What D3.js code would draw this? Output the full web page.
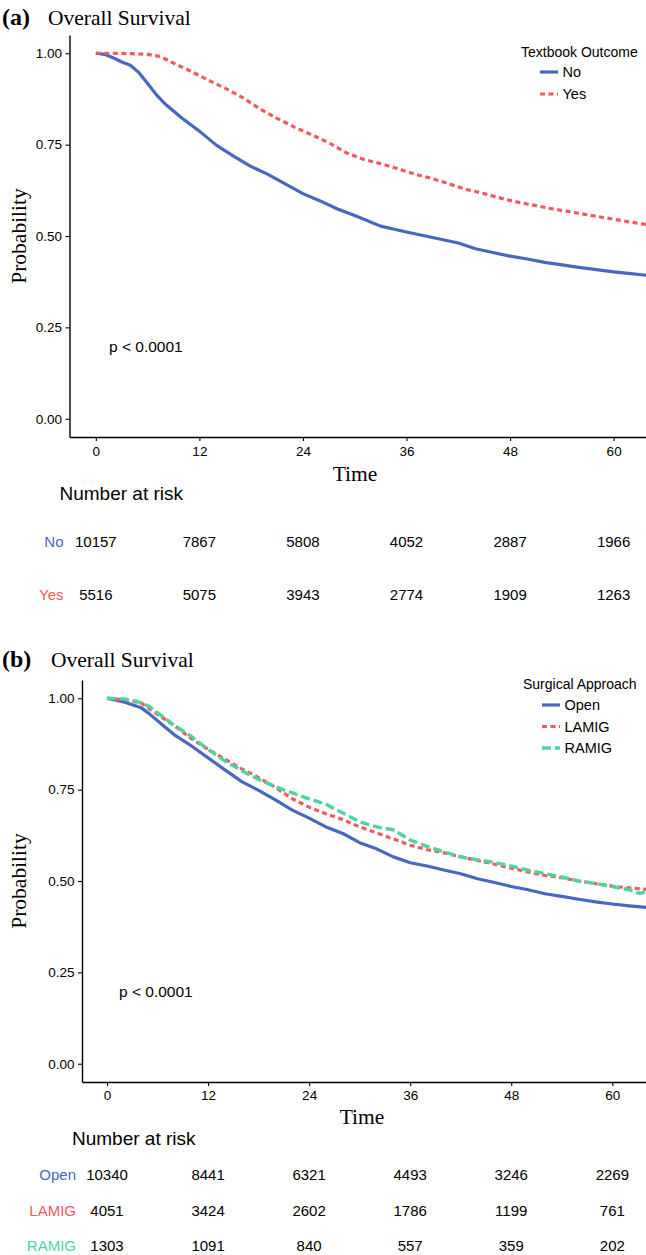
<!DOCTYPE html>
<html>
<head>
<meta charset="utf-8">
<script src="https://cdn.jsdelivr.net/npm/d3@7"></script>
<style>
  html, body { margin: 0; padding: 0; background: #fff; }
  svg { display: block; }
</style>
</head>
<body>
<svg id="chart" width="646" height="1255"></svg>
<script>
// ---------------- DATA ----------------
const xTicks = [0, 12, 24, 36, 48, 60];
const yTicks = [0, 0.25, 0.5, 0.75, 1.0];

// Panel (a): Textbook Outcome
const groupsA = ["No", "Yes"];
const timeNo = [0,1,2,3,4,5,6,7,8,10,12,14,16,18,20,22,24,26,28,30,33,36,39,42,44,46,48,50,52,54,56,58,60,62,64];
const survNo = [1.000,0.997,0.988,0.976,0.967,0.947,0.917,0.887,0.862,0.822,0.787,0.748,0.718,0.690,0.668,0.642,0.616,0.596,0.574,0.556,0.527,0.511,0.496,0.481,0.465,0.455,0.445,0.437,0.428,0.421,0.414,0.408,0.402,0.397,0.392];
const timeYes = [0,2,4,6,7.5,9,11,13,15,17,19,21,23,25,27,29,31,33,35,37,39,41,43,45,47,49,51,53,55,57,59,61,63,64];
const survYes = [1.000,1.000,0.999,0.997,0.991,0.973,0.951,0.927,0.904,0.879,0.848,0.822,0.798,0.777,0.755,0.728,0.710,0.698,0.684,0.669,0.657,0.642,0.627,0.616,0.603,0.592,0.583,0.574,0.566,0.558,0.550,0.542,0.534,0.531];
const riskNo  = [10157, 7867, 5808, 4052, 2887, 1966];
const riskYes = [5516, 5075, 3943, 2774, 1909, 1263];

// Panel (b): Surgical Approach
const groupsB = ["Open", "LAMIG", "RAMIG"];
const timeOpen = [0,2,4,5,6.7,8,10,12,14,16,18,20,22,24,26,28,30,32,34,36,38,40,42,44,46,48,50,52,54,56,58,60,62,64];
const survOpen = [1.000,0.990,0.975,0.958,0.925,0.900,0.870,0.837,0.804,0.772,0.748,0.722,0.694,0.672,0.648,0.630,0.605,0.588,0.566,0.550,0.541,0.530,0.520,0.506,0.496,0.485,0.476,0.465,0.458,0.450,0.443,0.437,0.432,0.428];
const timeLAMIG = [0,2,4,6,8,10,12,14,16,18,20,22,24,26,28,30,32,34,36,38,40,42,44,46,48,50,52,54,56,58,60,62,64];
const survLAMIG = [1.000,0.996,0.988,0.956,0.925,0.890,0.860,0.833,0.807,0.783,0.756,0.725,0.702,0.684,0.668,0.648,0.632,0.615,0.598,0.586,0.577,0.566,0.556,0.546,0.535,0.525,0.515,0.509,0.500,0.493,0.486,0.481,0.477];
const timeRAMIG = [0,2,3.5,5,6.7,8,10,12,14,16,18,20,22,24,26,28,30,32,34,36,38,40,42,44,46,48,50,52,54,56,58,60,62,63.2,64];
const survRAMIG = [1.000,0.998,0.992,0.978,0.948,0.926,0.896,0.860,0.828,0.802,0.778,0.758,0.741,0.725,0.710,0.686,0.662,0.648,0.640,0.612,0.595,0.580,0.566,0.558,0.551,0.541,0.530,0.520,0.511,0.500,0.493,0.485,0.476,0.466,0.470];
const riskOpen  = [10340, 8441, 6321, 4493, 3246, 2269];
const riskLAMIG = [4051, 3424, 2602, 1786, 1199, 761];
const riskRAMIG = [1303, 1091, 840, 557, 359, 202];

// ---------------- STYLE ----------------
const BLUE = "#4767C3", RED = "#F8575C", GREEN = "#4ED3A3";
const SANS = "'Liberation Sans', Arial, Helvetica, sans-serif";
const SERIF = "'Liberation Serif', 'Times New Roman', Times, serif";

const svg = d3.select("#chart");
svg.append("rect").attr("width", 646).attr("height", 1255).attr("fill", "#fff");

function zip(ts, ss) { return ts.map((t, i) => ({ t: t, s: ss[i] })); }

function drawPanel(p) {
  const g = svg.append("g");
  const x = d3.scaleLinear().domain(p.xDomain).range([p.left, 646]);
  const y = d3.scaleLinear().domain([-0.05, 1.05]).range([p.bottom, p.top]);

  // title
  g.append("text").attr("x", 2).attr("y", p.titleY)
    .attr("font-family", SERIF).attr("font-weight", "bold").attr("font-size", 24)
    .text(p.letter);
  g.append("text").attr("x", p.titleX).attr("y", p.titleY)
    .attr("font-family", SERIF).attr("font-size", 21.5)
    .text("Overall Survival");

  // clip
  const clipId = "clip" + p.letter.replace(/[()]/g, "");
  svg.append("clipPath").attr("id", clipId).append("rect")
    .attr("x", p.left).attr("y", p.top).attr("width", 646 - p.left).attr("height", p.bottom - p.top);

  // curves
  const line = d3.line().x(d => x(d.t)).y(d => y(d.s)).curve(d3.curveLinear);
  const cg = g.append("g").attr("clip-path", "url(#" + clipId + ")");
  p.series.forEach(s => {
    cg.append("path").datum(zip(s.t, s.s))
      .attr("fill", "none").attr("stroke", s.color).attr("stroke-width", s.width)
      .attr("stroke-dasharray", s.dash).attr("stroke-linejoin", "round")
      .attr("d", line);
  });

  // axes
  const yAxis = d3.axisLeft(y).tickValues(yTicks).tickFormat(d3.format(".2f"))
    .tickSize(4).tickSizeOuter(0).tickPadding(3.5);
  const ya = g.append("g").attr("transform", `translate(${p.left},0)`).call(yAxis);
  const xAxis = d3.axisBottom(x).tickValues(xTicks).tickFormat(d3.format("d"))
    .tickSize(4).tickSizeOuter(0).tickPadding(p.xPad);
  const xa = g.append("g").attr("transform", `translate(0,${p.bottom})`).call(xAxis);
  [ya, xa].forEach(a => {
    a.selectAll("path.domain").attr("stroke", "#000").attr("stroke-width", 1.4);
    a.selectAll(".tick line").attr("stroke", "#000").attr("stroke-width", 1.1);
    a.selectAll(".tick text").attr("fill", "#000").attr("font-family", SANS).attr("font-size", 13.5);
  });

  // axis titles
  g.append("text").attr("transform", `translate(${p.ylabX},${(p.top + p.bottom) / 2}) rotate(-90)`)
    .attr("text-anchor", "middle").attr("font-family", SERIF).attr("font-size", 21.5)
    .text("Probability");
  g.append("text").attr("x", p.timeX).attr("y", p.timeY).attr("text-anchor", "middle")
    .attr("font-family", SERIF).attr("font-size", 21.5).text("Time");

  // p-value
  g.append("text").attr("x", p.pX).attr("y", p.pY)
    .attr("font-family", SANS).attr("font-size", 15.5).text("p < 0.0001");

  // legend
  g.append("text").attr("x", p.legX).attr("y", p.legTitleY)
    .attr("font-family", SANS).attr("font-size", 14).text(p.legTitle);
  p.series.forEach((s, i) => {
    const ly = p.legY0 + i * p.legStep;
    g.append("line").attr("x1", p.legX + 19).attr("x2", p.legX + 37).attr("y1", ly).attr("y2", ly)
      .attr("stroke", s.color).attr("stroke-width", s.width).attr("stroke-dasharray", s.dash);
    g.append("text").attr("x", p.legX + 41.5).attr("y", ly + 5.2)
      .attr("font-family", SANS).attr("font-size", 14.5).text(s.name);
  });

  // risk table
  g.append("text").attr("x", p.narX).attr("y", p.narY)
    .attr("font-family", SANS).attr("font-size", 19).text("Number at risk");
  p.series.forEach((s, i) => {
    const ry = p.rowY[i];
    g.append("text").attr("x", p.rowLabelX).attr("y", ry).attr("text-anchor", "end")
      .attr("font-family", SANS).attr("font-size", 15).attr("fill", s.color).text(s.name);
    g.selectAll(null).data(s.risk).enter().append("text")
      .attr("x", (d, j) => x(xTicks[j])).attr("y", ry).attr("text-anchor", "middle")
      .attr("font-family", SANS).attr("font-size", 15).attr("fill", "#000")
      .text(d => d);
  });
}

drawPanel({
  letter: "(a)", titleX: 48, titleY: 25,
  left: 69.5, top: 35, bottom: 437, xDomain: [-3.05, 63.75], xPad: 5,
  ylabX: 25.5, timeX: 355, timeY: 481, pX: 109, pY: 352,
  legX: 521, legTitleY: 57, legY0: 72, legStep: 22, legTitle: "Textbook Outcome",
  narX: 59.5, narY: 500, rowLabelX: 63.5, rowY: [547, 599.5],
  series: [
    { name: groupsA[0], t: timeNo, s: survNo, risk: riskNo, color: BLUE, width: 3.2, dash: null },
    { name: groupsA[1], t: timeYes, s: survYes, risk: riskYes, color: RED, width: 3.2, dash: "5,3.5" }
  ]
});

drawPanel({
  letter: "(b)", titleX: 51, titleY: 667,
  left: 82, top: 680, bottom: 1082, xDomain: [-2.97, 64.0], xPad: 4.7,
  ylabX: 26, timeX: 362, timeY: 1124, pX: 119, pY: 997,
  legX: 523, legTitleY: 689, legY0: 705, legStep: 21.5, legTitle: "Surgical Approach",
  narX: 72, narY: 1144.5, rowLabelX: 76, rowY: [1179.5, 1215.5, 1251.2],
  series: [
    { name: groupsB[0], t: timeOpen, s: survOpen, risk: riskOpen, color: BLUE, width: 3.2, dash: null },
    { name: groupsB[1], t: timeLAMIG, s: survLAMIG, risk: riskLAMIG, color: RED, width: 3.2, dash: "5,3.5" },
    { name: groupsB[2], t: timeRAMIG, s: survRAMIG, risk: riskRAMIG, color: GREEN, width: 3.4, dash: "9,4" }
  ]
});
</script>
</body>
</html>
